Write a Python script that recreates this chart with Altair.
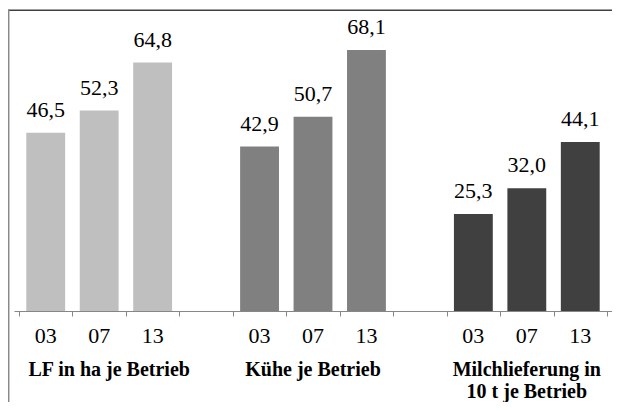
import altair as alt
import pandas as pd

groups = ["LF in ha je Betrieb", "Kühe je Betrieb", "Milchlieferung in\n10 t je Betrieb"]
years = ["03", "07", "13"]
lf_values = [46.5, 52.3, 64.8]
kuehe_values = [42.9, 50.7, 68.1]
milch_values = [25.3, 32.0, 44.1]
group_colors = ["#BFBFBF", "#808080", "#404040"]

series = [lf_values, kuehe_values, milch_values]

rows = []
for gi, g in enumerate(groups):
    for yi, y in enumerate(years):
        rows.append({"group": g, "year": y, "gi": gi, "yi": yi, "value": series[gi][yi]})
df = pd.DataFrame(rows)

NSLOTS = 11
FONT = "'Liberation Serif', 'Times New Roman', Times, serif"
W, H = 598, 299

xscale = alt.Scale(domain=[0, NSLOTS], nice=False, zero=False)
yscale = alt.Scale(domain=[0, 78], nice=False)

base = alt.Chart(df).transform_calculate(
    x0="datum.gi * 4 + datum.yi + 0.1365",
    x1="datum.gi * 4 + datum.yi + 0.8635",
    xc="datum.gi * 4 + datum.yi + 0.5",
    zero="0",
    lab="replace(format(datum.value, '.1f'), '.', ',')",
)

bars = base.mark_bar(orient="vertical").encode(
    x=alt.X(
        "x0:Q",
        scale=xscale,
        axis=alt.Axis(
            title=None,
            values=list(range(NSLOTS + 1)),
            labels=False,
            grid=False,
            domainColor="#868686",
            tickColor="#868686",
            tickSize=5,
        ),
    ),
    x2="x1:Q",
    y=alt.Y("value:Q", scale=yscale, axis=None),
    y2="zero:Q",
    color=alt.Color("group:N", scale=alt.Scale(domain=groups, range=group_colors), legend=None),
)

values = base.mark_text(font=FONT, fontSize=22, baseline="alphabetic", dy=-16, color="#000000").encode(
    x=alt.X("xc:Q", scale=xscale),
    y=alt.Y("value:Q", scale=yscale, axis=None),
    text="lab:N",
)

yearlab = base.mark_text(font=FONT, fontSize=22, baseline="alphabetic", dy=32, color="#000000").encode(
    x=alt.X("xc:Q", scale=xscale),
    y=alt.Y("zero:Q", scale=yscale, axis=None),
    text="year:N",
)

grp_style = dict(font=FONT, fontSize=20, fontWeight="bold", baseline="alphabetic", dy=64.5,
                 lineBreak="\n", lineHeight=22, color="#000000")

grp_first = base.transform_filter("datum.yi == 1 && datum.gi == 0").mark_text(dx=10, **grp_style).encode(
    x=alt.X("xc:Q", scale=xscale),
    y=alt.Y("zero:Q", scale=yscale, axis=None),
    text="group:N",
)

grp_rest = base.transform_filter("datum.yi == 1 && datum.gi > 0").mark_text(**grp_style).encode(
    x=alt.X("xc:Q", scale=xscale),
    y=alt.Y("zero:Q", scale=yscale, axis=None),
    text="group:N",
)

frame_top = base.transform_filter("datum.yi == 1 && datum.gi == 0").mark_rule(
    color="#404040", strokeWidth=1.5
).encode(x=alt.value(-6), x2=alt.value(W), y=alt.value(-1.7))

frame_left = base.transform_filter("datum.yi == 1 && datum.gi == 0").mark_rule(
    color="#888888", strokeWidth=1.5
).encode(x=alt.value(-5.3), y=alt.value(-2.4), y2=alt.value(H + 95))

chart = alt.layer(bars, values, yearlab, grp_first, grp_rest, frame_top, frame_left).properties(
    width=W,
    height=H,
    autosize=alt.AutoSizeParams(type="none"),
    padding={"left": 6, "top": 4, "right": 0, "bottom": 91},
    view=alt.ViewBackground(strokeWidth=0, stroke="transparent"),
).configure_view(strokeWidth=0, stroke="transparent")

chart.save("out.html", embed_options={"renderer": "svg", "actions": False})
